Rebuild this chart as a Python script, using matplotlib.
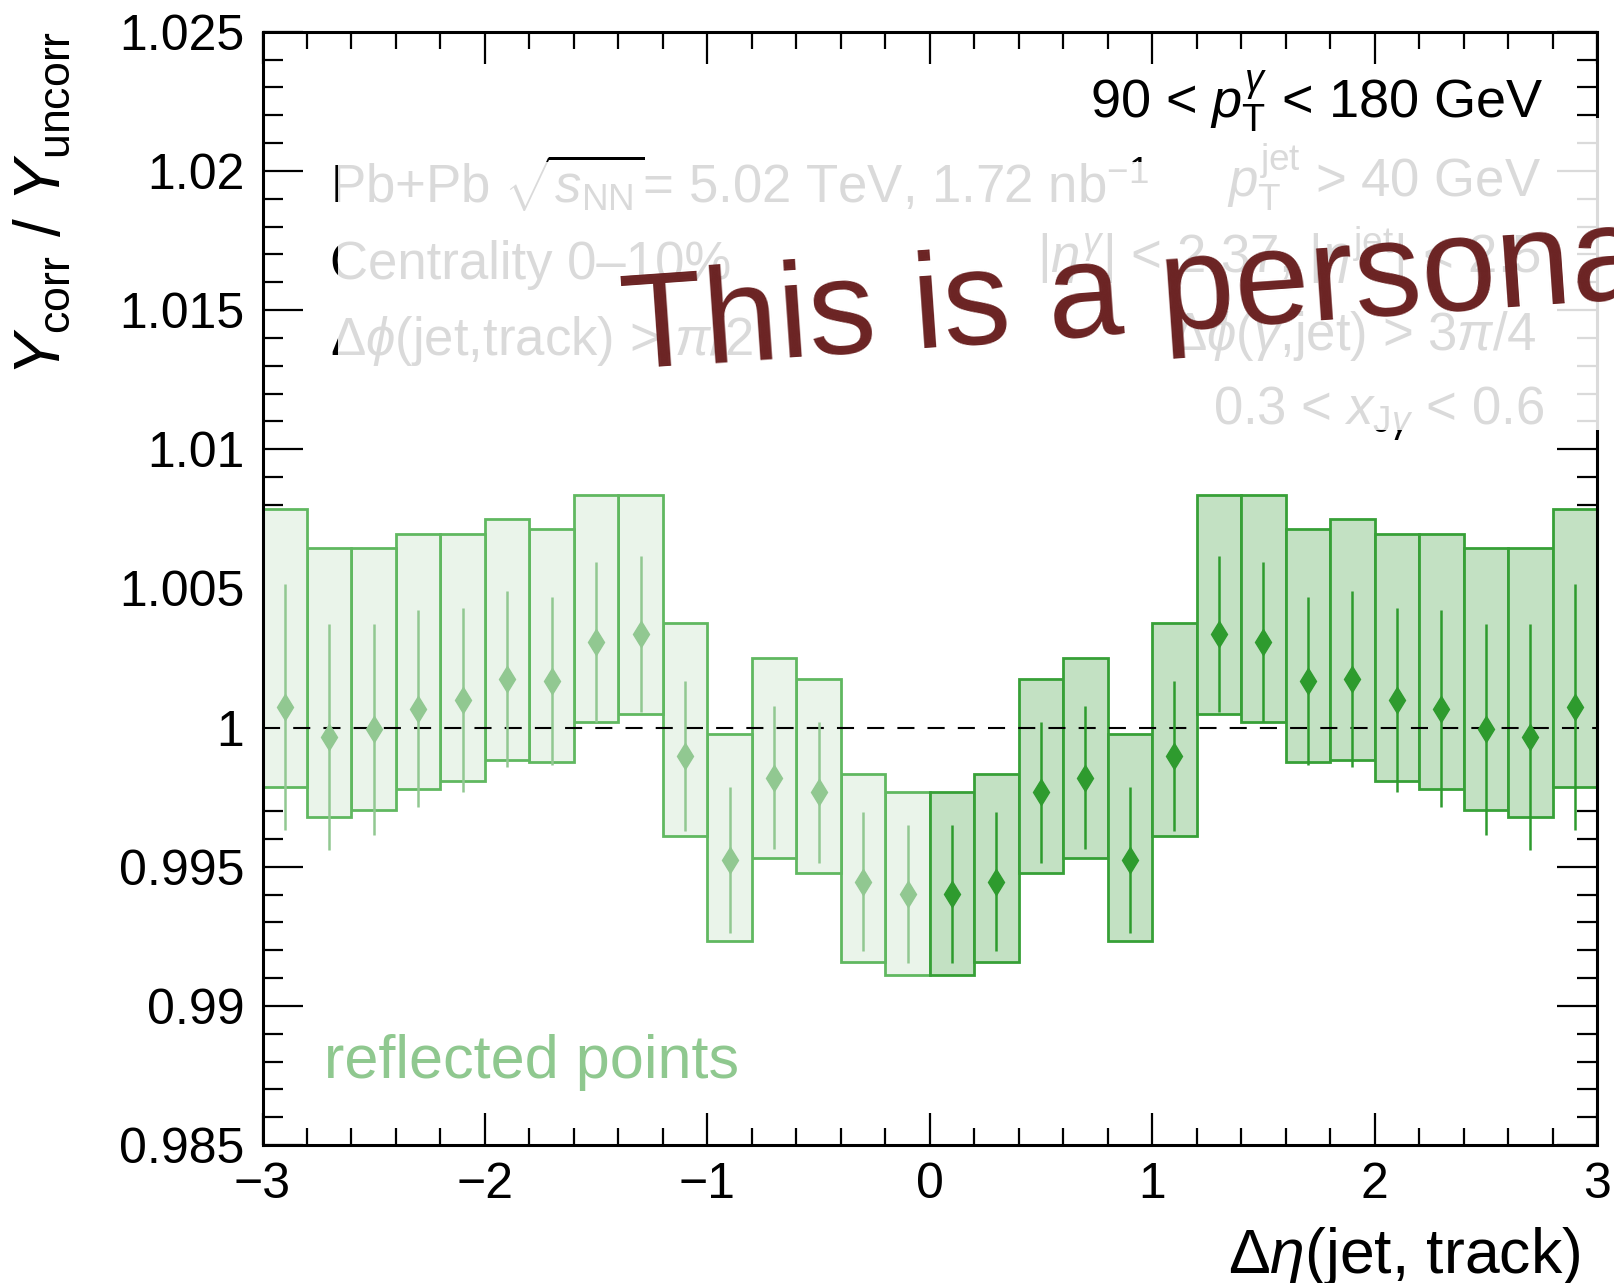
import numpy as np
import matplotlib
matplotlib.use("Agg")
import matplotlib.pyplot as plt
from matplotlib.patches import Polygon
from matplotlib.ticker import MultipleLocator, FuncFormatter

plt.rcParams['font.family'] = ['Liberation Sans', 'DejaVu Sans']
plt.rcParams['mathtext.fontset'] = 'custom'
plt.rcParams['mathtext.rm'] = 'Liberation Sans'
plt.rcParams['mathtext.it'] = 'Liberation Sans:italic'
plt.rcParams['mathtext.bf'] = 'Liberation Sans:bold'

W, H = 1614, 1283

# measured bins on the positive side, the negative side is its mirror image
deta_centers = [0.1, 0.3, 0.5, 0.7, 0.9, 1.1, 1.3, 1.5, 1.7, 1.9, 2.1, 2.3, 2.5, 2.7, 2.9]
ratio = [0.99402, 0.99446, 0.99767, 0.99820, 0.99524, 0.99898, 1.00335, 1.00307,
         1.00166, 1.00173, 1.00098, 1.00068, 0.99994, 0.99966, 1.00074]
stat_err = [0.00248, 0.00250, 0.00253, 0.00257, 0.00262, 0.00270, 0.00280, 0.00288,
            0.00302, 0.00316, 0.00330, 0.00354, 0.00379, 0.00406, 0.00441]
sys_up = [0.00368, 0.00387, 0.00406, 0.00430, 0.00451, 0.00476, 0.00501, 0.00527,
          0.00548, 0.00575, 0.00599, 0.00628, 0.00652, 0.00680, 0.00710]
sys_down = [0.00290, 0.00290, 0.00291, 0.00288, 0.00291, 0.00289, 0.00288, 0.00288,
            0.00289, 0.00290, 0.00291, 0.00289, 0.00291, 0.00289, 0.00289]
bin_width = 0.2

x_main = np.array(deta_centers)
y_main = np.array(ratio)
err = np.array(stat_err)
up = np.array(sys_up)
down = np.array(sys_down)
x_refl = -x_main


def px(x, y):
    # pixel position (y measured from the top) -> figure fraction
    return x / W, 1 - y / H


fig = plt.figure(figsize=(W / 100, H / 100), dpi=100)
ax = fig.add_axes([262.5 / W, 1 - 1145 / H, (1597 - 262.5) / W, (1145 - 31.7) / H])


def draw_points(x, colors, z):
    fill, edge, mark = colors
    ax.bar(x, up + down, bottom=y_main - down, width=bin_width, color=fill,
           edgecolor=edge, linewidth=2, zorder=z)
    ax.errorbar(x, y_main, yerr=err, fmt='d', color=mark, ms=13,
                elinewidth=1.8, capsize=0, zorder=z + 2)


draw_points(x_refl, ('#eaf4ea', '#60b860', '#91c891'), 2)
draw_points(x_main, ('#c3e1c3', '#37a037', '#2e9b2e'), 2)
ax.axhline(1.0, color='black', lw=1.5, dashes=(8.2, 6.3), zorder=3)

ax.set_xlim(-3, 3)
ax.set_ylim(0.985, 1.025)
ax.xaxis.set_major_locator(MultipleLocator(1))
ax.xaxis.set_minor_locator(MultipleLocator(0.2))
ax.yaxis.set_major_locator(MultipleLocator(0.005))
ax.yaxis.set_minor_locator(MultipleLocator(0.001))
ax.xaxis.set_major_formatter(FuncFormatter(lambda v, _: f'{round(v):d}'.replace('-', '\u2212')))
ax.yaxis.set_major_formatter(FuncFormatter(lambda v, _: f'{v:.3f}'.rstrip('0').rstrip('.')))
ax.tick_params(which='both', direction='in', top=True, right=True, width=1.6, labelsize=36)
ax.tick_params(axis='x', which='major', length=23, pad=12)
ax.tick_params(axis='x', which='minor', length=12)
ax.tick_params(axis='y', which='major', length=29, pad=13)
ax.tick_params(axis='y', which='minor', length=14.5)
for s in ax.spines.values():
    s.set_linewidth(2.2)

# axis titles
fig.text(*px(43, 31), r'$Y_{\mathrm{corr}}$ / $Y_{\mathrm{uncorr}}$', rotation=90,
         ha='center', va='top', fontsize=46)
fig.text(*px(1580, 1273), r'$\Delta\eta$(jet, track)', ha='right', va='baseline', fontsize=45)

# selection labels
fs = 38
left_lines = [
    (204, r'Pb+Pb $\sqrt{s_{\mathrm{NN}}}$= 5.02 TeV, 1.72 nb$^{-1}$'),
    (279, 'Centrality 0\u201310%'),
    (355, r'$\Delta\phi$(jet,track) > $\pi$/2'),
]
for y, s in left_lines:
    fig.text(*px(330, y), s, ha='left', va='baseline', fontsize=fs)

right_lines = [
    (1541, 197, r'$p_{\mathrm{T}}^{\mathrm{jet}}$ > 40 GeV'),
    (1541, 273, r'|$\eta^{\gamma}$| < 2.37, |$\eta^{\mathrm{jet}}$| < 2.5'),
    (1537, 350, r'$\Delta\phi$($\gamma$,jet) > 3$\pi$/4'),
    (1544, 425, r'0.3 < $x_{\mathrm{J}\gamma}$ < 0.6'),
]
for x, y, s in right_lines:
    fig.text(*px(x, y), s, ha='right', va='baseline', fontsize=fs)

# faded panel over the selection labels
veil = [(338, 162), (1160, 162), (1160, 118), (1614, 118), (1614, 430), (338, 430)]
fig.patches.append(Polygon([px(a, b) for a, b in veil], closed=True,
                           transform=fig.transFigure, facecolor='white',
                           edgecolor='none', alpha=0.86, zorder=5))

fig.text(*px(1544, 118), r'90 < $p_{\mathrm{T}}^{\gamma}$ < 180 GeV', ha='right',
         va='baseline', fontsize=39, zorder=6)

ax.text(0.046, 0.060, 'reflected points', transform=ax.transAxes, color='#8fc88f',
        fontsize=44, ha='left', va='baseline', zorder=6)

fig.text(*px(624, 369), 'This is a personal plot', rotation=4, rotation_mode='anchor',
         ha='left', va='baseline', fontsize=97, color='#6b2323', zorder=10)

fig.savefig('out.png', dpi=100)
